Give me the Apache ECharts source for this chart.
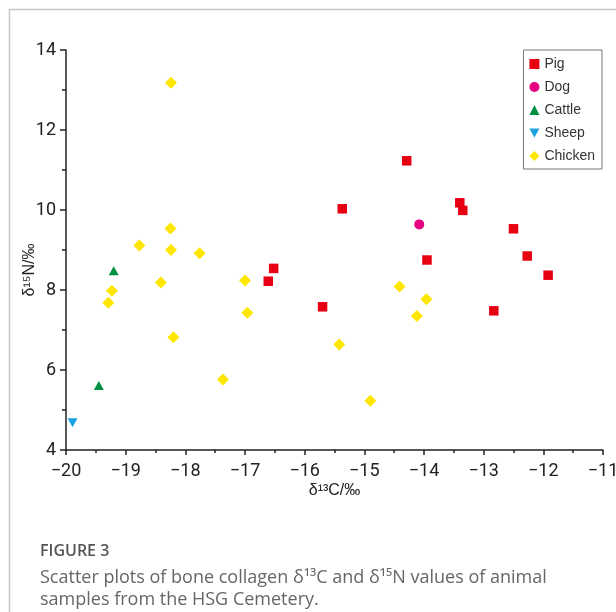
<!DOCTYPE html>
<html>
<head>
<meta charset="utf-8">
<script src="https://cdn.jsdelivr.net/npm/echarts@6/dist/echarts.min.js"></script>
<style>
  html, body { margin: 0; padding: 0; background: #fff; }
  #chart { width: 616px; height: 612px; }
</style>
</head>
<body>
<div id="chart"></div>
<script>
// d13C (x) and d15N (y) values
var pigC = [-14.29, -15.37, -13.40, -13.35, -12.50, -13.95, -12.27, -11.92, -12.83, -15.70, -16.52, -16.61],
    pigN = [11.23, 10.03, 10.18, 9.99, 9.53, 8.75, 8.85, 8.37, 7.48, 7.58, 8.54, 8.22]
var dogC = [-14.08],
    dogN = [9.64]
var cattleC = [-19.20, -19.45],
    cattleN = [8.48, 5.61]
var sheepC = [-19.89],
    sheepN = [4.68]
var chickenC = [-18.24, -18.25, -18.77, -18.24, -17.76, -18.41, -17.00, -19.23, -19.29, -16.96, -18.20, -17.37, -15.42, -14.90, -14.41, -13.96, -14.12],
    chickenN = [13.18, 9.54, 9.11, 9.00, 8.92, 8.19, 8.24, 7.98, 7.68, 7.43, 6.82, 5.76, 6.64, 5.23, 8.09, 7.77, 7.35]

var groups = ['Pig', 'Dog', 'Cattle', 'Sheep', 'Chicken']
var xTicks = [-20, -11, 1]   // min, max, interval
var yTicks = [4, 14, 2]

var chart = echarts.init(document.getElementById('chart'))
var tickFont = '"Liberation Sans Narrow", "Roboto", sans-serif'
var nameFont = '"Liberation Sans", Arial, sans-serif'

function pairs(xs, ys) {
    return xs.map(function (x, i) { return [x, ys[i]] })
}
function minus(v) {
    return String(v).replace('-', '\u2212')
}

var option = {
    animation: false,
    backgroundColor: '#fff',
    grid: {
        left: 66,
        right: 13,
        top: 50,
        bottom: 162,
        outerBoundsMode: 'none'
    },
    legend: {
        orient: 'vertical',
        right: 14,
        top: 50,
        itemWidth: 10,
        itemHeight: 10,
        itemGap: 9,
        padding: [7, 7, 6, 6],
        borderColor: '#777',
        borderWidth: 1,
        textStyle: { fontSize: 14, color: '#333', fontFamily: nameFont },
        data: groups
    },
    xAxis: {
        type: 'value',
        min: xTicks[0],
        max: xTicks[1],
        interval: xTicks[2],
        name: '\u03b4\u00b9\u00b3C/\u2030',
        nameLocation: 'middle',
        nameGap: 33,
        nameMoveOverlap: false,
        nameTextStyle: { fontSize: 16, color: '#222', fontFamily: nameFont },
        splitLine: { show: false },
        axisLine: { onZero: false, lineStyle: { color: '#222', width: 1.5 } },
        axisTick: { show: true, length: 5, lineStyle: { color: '#222', width: 1.5 } },
        minorTick: { show: true, splitNumber: 2, length: 3, lineStyle: { color: '#222', width: 1.5 } },
        axisLabel: {
            fontSize: 18,
            color: '#222',
            fontFamily: tickFont,
            margin: 12,
            formatter: minus
        }
    },
    yAxis: {
        type: 'value',
        min: yTicks[0],
        max: yTicks[1],
        interval: yTicks[2],
        name: '\u03b4\u00b9\u2075N/\u2030',
        nameLocation: 'middle',
        nameGap: 28,
        nameMoveOverlap: false,
        nameTextStyle: { fontSize: 16, color: '#222', fontFamily: nameFont, padding: [0, 40, 0, 0] },
        splitLine: { show: false },
        axisLine: { onZero: false, lineStyle: { color: '#222', width: 1.5 } },
        axisTick: { show: true, length: 6, lineStyle: { color: '#222', width: 1.5 } },
        minorTick: { show: true, splitNumber: 2, length: 4, lineStyle: { color: '#222', width: 1.5 } },
        axisLabel: {
            fontSize: 18,
            color: '#222',
            fontFamily: tickFont,
            margin: 10,
            formatter: minus
        }
    },
    graphic: [
        { type: 'line', shape: { x1: 9, y1: 9.5, x2: 616, y2: 9.5 }, style: { stroke: '#c8c8c8', lineWidth: 1.5 } },
        { type: 'line', shape: { x1: 9.5, y1: 9, x2: 9.5, y2: 612 }, style: { stroke: '#c8c8c8', lineWidth: 1.5 } },
        {
            type: 'text', left: 40, top: 543,
            style: { text: 'FIGURE 3', fontSize: 16, fontWeight: 600, fill: '#555', fontFamily: '"Open Sans", Lato, sans-serif' }
        },
        {
            type: 'text', left: 40, top: 567,
            style: {
                text: 'Scatter plots of bone collagen \u03b4\u00b9\u00b3C and \u03b4\u00b9\u2075N values of animal\nsamples from the HSG Cemetery.',
                fontSize: 18, lineHeight: 22, fill: '#666', fontFamily: '"Open Sans", Lato, sans-serif'
            }
        }
    ],
    series: [
        {
            name: 'Pig', type: 'scatter', symbol: 'rect', symbolSize: 9.5,
            itemStyle: { color: '#e60012', opacity: 1 },
            data: pairs(pigC, pigN)
        },
        {
            name: 'Dog', type: 'scatter', symbol: 'circle', symbolSize: 10,
            itemStyle: { color: '#e5007f', opacity: 1 },
            data: pairs(dogC, dogN)
        },
        {
            name: 'Cattle', type: 'scatter', symbol: 'triangle', symbolSize: [10, 9],
            itemStyle: { color: '#009140', opacity: 1 },
            data: pairs(cattleC, cattleN)
        },
        {
            name: 'Sheep', type: 'scatter', symbol: 'path://M0,0 L10,0 L5,9 Z', symbolSize: [10, 9],
            itemStyle: { color: '#1ba1e2', opacity: 1 },
            data: pairs(sheepC, sheepN)
        },
        {
            name: 'Chicken', type: 'scatter', symbol: 'diamond', symbolSize: 12,
            itemStyle: { color: '#ffe600', opacity: 1 },
            data: pairs(chickenC, chickenN)
        }
    ]
}

chart.setOption(option)
</script>
</body>
</html>
